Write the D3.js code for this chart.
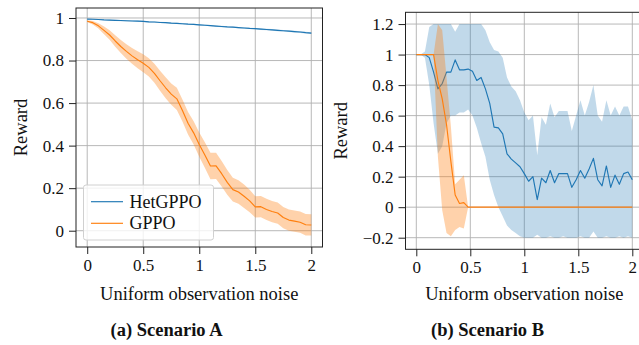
<!DOCTYPE html>
<html>
<head>
<meta charset="utf-8">
<script src="https://cdn.jsdelivr.net/npm/d3@7/dist/d3.min.js"></script>
<style>
  body { margin: 0; background: #fff; }
  svg { display: block; }
  svg text { font-family: "Liberation Serif", "Times New Roman", serif; }
</style>
</head>
<body>
<svg id="chart" width="639" height="345"></svg>
<script>

// ---- Scenario A (noise step 0.05) ----
var noiseA = [0, 0.05, 0.1, 0.15, 0.2, 0.25, 0.3, 0.35, 0.4, 0.45, 0.5, 0.55, 0.6, 0.65, 0.7, 0.75, 0.8, 0.85, 0.9, 0.95,
  1, 1.05, 1.1, 1.15, 1.2, 1.25, 1.3, 1.35, 1.4, 1.45, 1.5, 1.55, 1.6, 1.65, 1.7, 1.75, 1.8, 1.85, 1.9, 1.95, 2];
var hetA = [0.995, 0.994, 0.993, 0.991, 0.99, 0.989, 0.988, 0.987, 0.986, 0.985, 0.984, 0.982, 0.981, 0.979, 0.978, 0.976, 0.975, 0.973, 0.971, 0.97,
  0.968, 0.966, 0.964, 0.962, 0.96, 0.958, 0.957, 0.955, 0.953, 0.951, 0.95, 0.948, 0.946, 0.944, 0.942, 0.94, 0.938, 0.936, 0.934, 0.931, 0.929];
var hetAStd = [0.002, 0.002, 0.002, 0.002, 0.003, 0.003, 0.003, 0.003, 0.003, 0.003, 0.003, 0.003, 0.003, 0.003, 0.003, 0.003, 0.003, 0.003, 0.003, 0.003,
  0.003, 0.003, 0.003, 0.003, 0.003, 0.003, 0.003, 0.003, 0.003, 0.003, 0.003, 0.004, 0.004, 0.004, 0.004, 0.004, 0.004, 0.004, 0.004, 0.004, 0.004];
var gppoA = [0.985, 0.978, 0.963, 0.942, 0.92, 0.892, 0.866, 0.843, 0.822, 0.804, 0.787, 0.768, 0.74, 0.705, 0.672, 0.642, 0.62, 0.565, 0.505, 0.46,
  0.405, 0.356, 0.304, 0.305, 0.268, 0.227, 0.193, 0.182, 0.162, 0.14, 0.112, 0.113, 0.1, 0.09, 0.083, 0.062, 0.05, 0.045, 0.04, 0.028, 0.027];
var gppoAStd = [0.004, 0.008, 0.012, 0.018, 0.022, 0.027, 0.03, 0.034, 0.037, 0.04, 0.042, 0.043, 0.045, 0.047, 0.049, 0.05, 0.052, 0.052, 0.053, 0.055,
  0.057, 0.06, 0.062, 0.062, 0.06, 0.058, 0.056, 0.055, 0.055, 0.053, 0.05, 0.05, 0.05, 0.05, 0.05, 0.05, 0.05, 0.05, 0.05, 0.05, 0.05];

// ---- Scenario B (noise step 0.04) ----
var noiseB = [0, 0.04, 0.08, 0.12, 0.16, 0.2, 0.24, 0.28, 0.32, 0.36, 0.4, 0.44, 0.48, 0.52, 0.56, 0.6, 0.64, 0.68, 0.72, 0.76,
  0.8, 0.84, 0.88, 0.92, 0.96, 1, 1.04, 1.08, 1.12, 1.16, 1.2, 1.24, 1.28, 1.32, 1.36, 1.4, 1.44, 1.48, 1.52, 1.56,
  1.6, 1.64, 1.68, 1.72, 1.76, 1.8, 1.84, 1.88, 1.92, 1.96, 2];
var hetB = [1, 1, 1, 0.98, 0.885, 0.775, 0.81, 0.885, 0.885, 0.965, 0.9, 0.9, 0.905, 0.89, 0.83, 0.85, 0.775, 0.68, 0.525, 0.52,
  0.48, 0.35, 0.315, 0.29, 0.265, 0.22, 0.17, 0.2, 0.05, 0.19, 0.16, 0.24, 0.16, 0.22, 0.22, 0.22, 0.13, 0.18, 0.24, 0.19,
  0.25, 0.32, 0.18, 0.14, 0.27, 0.13, 0.21, 0.15, 0.22, 0.23, 0.18];
var hetBHigh = [1, 1, 1.02, 1.18, 1.2, 1.2, 1.2, 1.2, 1.2, 1.15, 1.2, 1.2, 1.2, 1.2, 1.2, 1.2, 1.16, 1.08, 1.03, 1.02,
  0.98, 0.85, 0.79, 0.76, 0.7, 0.62, 0.57, 0.6, 0.34, 0.59, 0.54, 0.68, 0.59, 0.63, 0.63, 0.63, 0.5, 0.6, 0.7, 0.6,
  0.69, 0.8, 0.6, 0.56, 0.7, 0.6, 0.66, 0.6, 0.66, 0.66, 0.57];
var hetBLow = [1, 1, 0.98, 0.8, 0.55, 0.35, 0.4, 0.55, 0.6, 0.6, 0.62, 0.62, 0.64, 0.6, 0.52, 0.42, 0.33, 0.18, 0.08, 0,
  -0.06, -0.12, -0.15, -0.17, -0.19, -0.2, -0.2, -0.2, -0.18, -0.2, -0.2, -0.19, -0.2, -0.2, -0.19, -0.2, -0.2, -0.2, -0.19, -0.2,
  -0.2, -0.16, -0.2, -0.2, -0.19, -0.2, -0.2, -0.19, -0.2, -0.19, -0.2];
var gppoB = [1, 1, 1, 1, 1, 0.83, 0.71, 0.54, 0.3, 0.08, 0.024, 0.03, 0, 0, 0, 0, 0, 0, 0, 0,
  0, 0, 0, 0, 0, 0, 0, 0, 0, 0, 0, 0, 0, 0, 0, 0, 0, 0, 0, 0,
  0, 0, 0, 0, 0, 0, 0, 0, 0, 0, 0];
var gppoBHigh = [1, 1, 1, 1, 1, 1.2, 1.16, 0.85, 0.53, 0.15, 0.18, 0.21, 0, 0, 0, 0, 0, 0, 0, 0,
  0, 0, 0, 0, 0, 0, 0, 0, 0, 0, 0, 0, 0, 0, 0, 0, 0, 0, 0, 0,
  0, 0, 0, 0, 0, 0, 0, 0, 0, 0, 0];
var gppoBLow = [1, 1, 1, 1, 1, 0.33, -0.02, -0.17, -0.19, -0.15, -0.13, -0.14, 0, 0, 0, 0, 0, 0, 0, 0,
  0, 0, 0, 0, 0, 0, 0, 0, 0, 0, 0, 0, 0, 0, 0, 0, 0, 0, 0, 0,
  0, 0, 0, 0, 0, 0, 0, 0, 0, 0, 0];

// tick labels
var xTicks = [0, 0.5, 1, 1.5, 2];
var yTicksA = [0, 0.2, 0.4, 0.6, 0.8, 1];
var yTicksB = [-0.2, 0, 0.2, 0.4, 0.6, 0.8, 1, 1.2];

var BLUE = "#1f77b4", ORANGE = "#ff7f0e";
var FONT = "'Liberation Serif', 'Times New Roman', serif";

var svg = d3.select("#chart");
svg.append("rect").attr("width", 639).attr("height", 345).attr("fill", "#fff");

// tick format with a real minus sign
function fmt(v) {
  return d3.format("~g")(v).replace("-", "\u2212");
}

function label(parent) {
  return parent.append("text").attr("font-family", FONT).attr("fill", "#111");
}

function drawPanel(opt) {
  var x = d3.scaleLinear().domain([-0.1, 2.1]).range([opt.left, opt.right]);
  var y = d3.scaleLinear().domain(opt.yDomain).range([opt.bottom, opt.top]);

  var g = svg.append("g");

  // grid
  g.append("g").selectAll("line").data(xTicks).enter().append("line")
    .attr("x1", function (d) { return x(d); }).attr("x2", function (d) { return x(d); })
    .attr("y1", opt.top).attr("y2", opt.bottom)
    .attr("stroke", "#b0b0b0").attr("stroke-width", 0.9);
  g.append("g").selectAll("line").data(opt.yTicks).enter().append("line")
    .attr("y1", function (d) { return y(d); }).attr("y2", function (d) { return y(d); })
    .attr("x1", opt.left).attr("x2", opt.right)
    .attr("stroke", "#b0b0b0").attr("stroke-width", 0.9);

  var area = d3.area()
    .x(function (d) { return x(d.x); })
    .y0(function (d) { return y(d.lo); })
    .y1(function (d) { return y(d.hi); });
  var line = d3.line()
    .x(function (d) { return x(d.x); })
    .y(function (d) { return y(d.m); });

  opt.series.forEach(function (s) {
    var pts = s.x.map(function (v, i) { return { x: v, m: s.m[i], lo: s.lo[i], hi: s.hi[i] }; });
    g.append("path").datum(pts).attr("d", area)
      .attr("fill", s.color).attr("fill-opacity", s.alpha).attr("stroke", "none");
    g.append("path").datum(pts).attr("d", line)
      .attr("fill", "none").attr("stroke", s.color).attr("stroke-width", 1.15)
      .attr("stroke-linejoin", "round");
  });

  // axes
  var ax = g.append("g")
    .attr("transform", "translate(0," + opt.bottom + ")")
    .call(d3.axisBottom(x).tickValues(xTicks).tickSize(7).tickPadding(5).tickFormat(fmt));
  var ay = g.append("g")
    .attr("transform", "translate(" + opt.left + ",0)")
    .call(d3.axisLeft(y).tickValues(opt.yTicks).tickSize(7).tickPadding(5).tickFormat(fmt));
  [ax, ay].forEach(function (a) {
    a.attr("font-family", FONT).attr("font-size", 17);
    a.select(".domain").remove();
    a.selectAll("line").attr("stroke", "#222");
    a.selectAll("text").attr("fill", "#111");
  });
  ax.selectAll("text").attr("dy", "0.71em");

  // frame
  g.append("rect")
    .attr("x", opt.left).attr("y", opt.top)
    .attr("width", opt.right - opt.left).attr("height", opt.bottom - opt.top)
    .attr("fill", "none").attr("stroke", "#222").attr("stroke-width", 1);

  // labels
  label(g)
    .attr("x", (opt.left + opt.right) / 2).attr("y", 300)
    .attr("text-anchor", "middle").attr("font-size", 18.5)
    .text("Uniform observation noise");
  label(g)
    .attr("transform", "translate(" + opt.ylabX + "," + (opt.top + opt.bottom) / 2 + ") rotate(-90)")
    .attr("text-anchor", "middle").attr("font-size", 18.5)
    .text("Reward");
  label(g)
    .attr("x", opt.capX).attr("y", 336)
    .attr("text-anchor", "middle").attr("font-size", 18.5).attr("font-weight", "bold")
    .text(opt.caption);

  return g;
}

var gA = drawPanel({
  left: 76, right: 322.5, top: 8, bottom: 247,
  yDomain: [-0.0766, 1.047], yTicks: yTicksA, ylabX: 27, capX: 166.5,
  caption: "(a) Scenario A",
  series: [
    { x: noiseA, m: hetA, lo: hetA.map(function (v, i) { return v - hetAStd[i]; }), hi: hetA.map(function (v, i) { return v + hetAStd[i]; }), color: BLUE, alpha: 0.28 },
    { x: noiseA, m: gppoA, lo: gppoA.map(function (v, i) { return v - gppoAStd[i]; }), hi: gppoA.map(function (v, i) { return v + gppoAStd[i]; }), color: ORANGE, alpha: 0.35 }
  ]
});

drawPanel({
  left: 405.5, right: 643.1, top: 12.3, bottom: 249.3,
  yDomain: [-0.276, 1.277], yTicks: yTicksB, ylabX: 346.5, capX: 487.5,
  caption: "(b) Scenario B",
  series: [
    { x: noiseB, m: hetB, lo: hetBLow, hi: hetBHigh, color: BLUE, alpha: 0.28 },
    { x: noiseB, m: gppoB, lo: gppoBLow, hi: gppoBHigh, color: ORANGE, alpha: 0.35 }
  ]
});

// legend (scenario A)
var legend = gA.append("g");
legend.append("rect")
  .attr("x", 83.5).attr("y", 185).attr("width", 130).attr("height", 55).attr("rx", 2.5)
  .attr("fill", "#fff").attr("fill-opacity", 0.8).attr("stroke", "#d0d0d0");
[["HetGPPO", BLUE, 201.7], ["GPPO", ORANGE, 223.3]].forEach(function (d) {
  legend.append("line").attr("x1", 91).attr("x2", 123).attr("y1", d[2]).attr("y2", d[2])
    .attr("stroke", d[1]).attr("stroke-width", 1.15);
  label(legend).attr("x", 129.5).attr("y", d[2] + 6)
    .attr("font-size", 18).text(d[0]);
});

</script>
</body>
</html>
